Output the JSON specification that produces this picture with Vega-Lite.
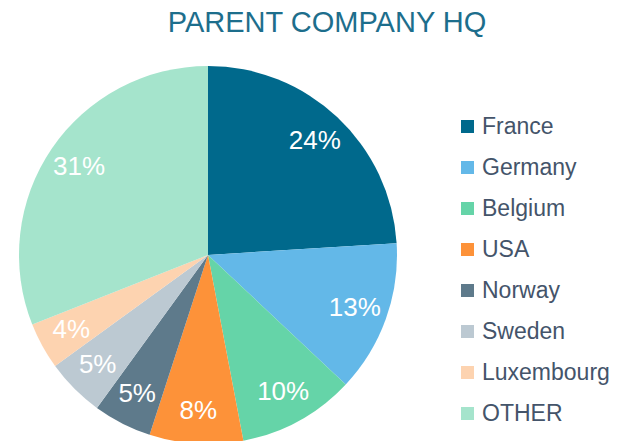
{
  "$schema": "https://vega.github.io/schema/vega-lite/v6.json",
  "width": 416,
  "height": 410,
  "autosize": {"type": "none"},
  "padding": {"left": 0, "top": 50, "right": 219, "bottom": 0},
  "background": "white",
  "title": {
    "text": "PARENT COMPANY HQ",
    "font": "Liberation Sans",
    "fontSize": 29,
    "fontWeight": "normal",
    "color": "#1d6e8c",
    "anchor": "middle",
    "dx": 119,
    "offset": 12,
    "limit": 600
  },
  "data": {
    "values": [
      {"country": "France", "share": 0.24, "order": 1},
      {"country": "Germany", "share": 0.13, "order": 2},
      {"country": "Belgium", "share": 0.10, "order": 3},
      {"country": "USA", "share": 0.08, "order": 4},
      {"country": "Norway", "share": 0.05, "order": 5},
      {"country": "Sweden", "share": 0.05, "order": 6},
      {"country": "Luxembourg", "share": 0.04, "order": 7},
      {"country": "OTHER", "share": 0.31, "order": 8}
    ]
  },
  "encoding": {
    "theta": {"field": "share", "type": "quantitative", "stack": true},
    "order": {"field": "order", "type": "quantitative"},
    "color": {
      "field": "country",
      "type": "nominal",
      "scale": {
        "domain": ["France", "Germany", "Belgium", "USA", "Norway", "Sweden", "Luxembourg", "OTHER"],
        "range": ["#00698c", "#63b8e8", "#65d4a8", "#fd9239", "#5e7a8b", "#bcc9d2", "#fdd3b0", "#a5e4cc"]
      },
      "legend": {
        "orient": "none",
        "legendX": 456,
        "legendY": 65,
        "title": null,
        "symbolType": "square",
        "symbolSize": 169,
        "symbolStrokeWidth": 0,
        "labelFontSize": 23,
        "labelFont": "Liberation Sans",
        "labelColor": "#44546a",
        "rowPadding": 17,
        "labelOffset": 3,
        "labelLimit": 200,
        "padding": 0
      }
    }
  },
  "layer": [
    {"mark": {"type": "arc", "outerRadius": 189, "strokeWidth": 0}},
    {
      "mark": {"type": "text", "radius": 156, "fontSize": 26, "font": "Liberation Sans"},
      "encoding": {
        "text": {"field": "share", "type": "quantitative", "format": ".0%"},
        "color": {"value": "white"}
      }
    }
  ],
  "config": {"view": {"stroke": null}}
}
